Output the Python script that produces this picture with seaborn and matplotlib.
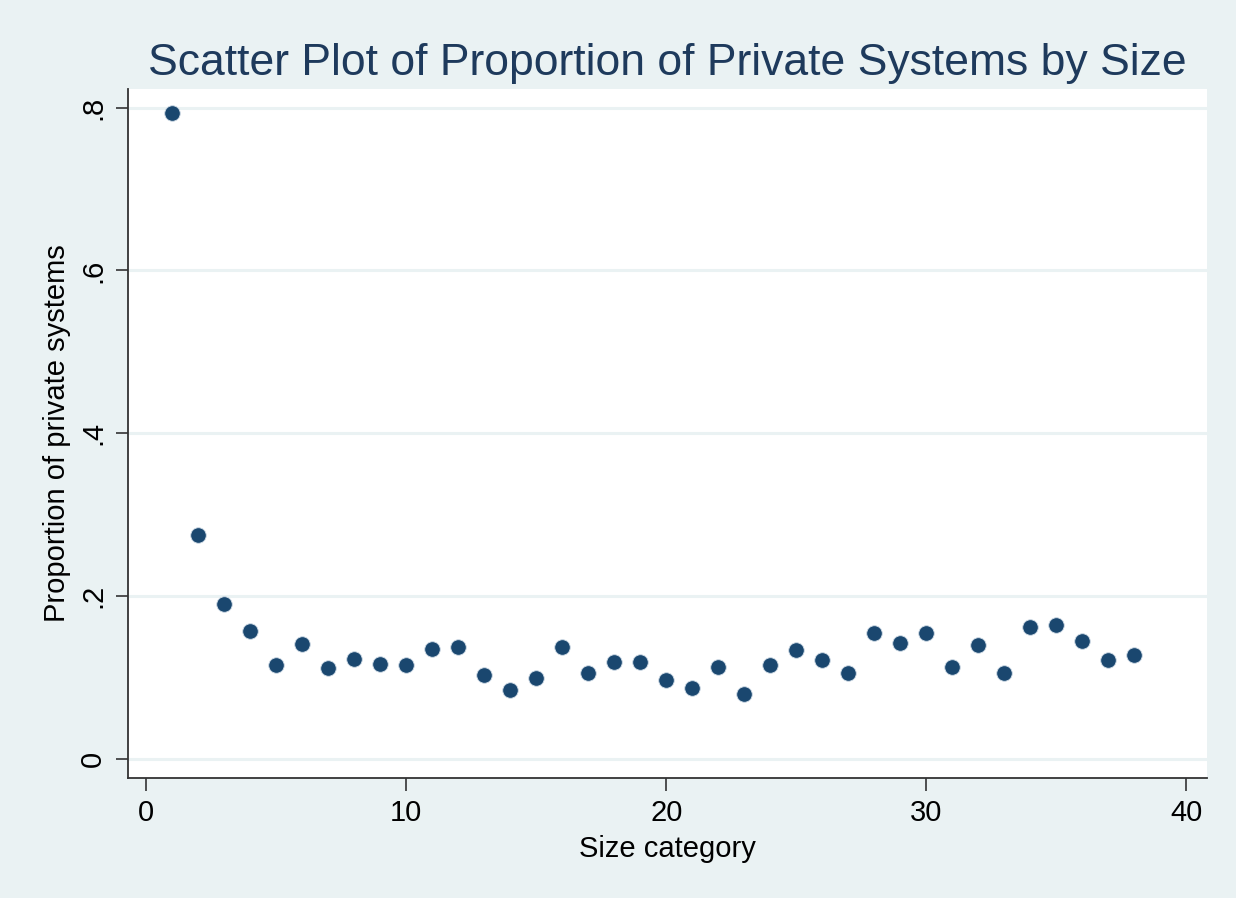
import matplotlib
matplotlib.use("Agg")
import matplotlib.pyplot as plt
import pandas as pd
import seaborn as sns

# Size category vs proportion of private systems
size_category = list(range(1, 39))
proportion_private = [
    0.793, 0.275, 0.190, 0.157, 0.115, 0.141, 0.111, 0.123, 0.117, 0.115,
    0.135, 0.137, 0.103, 0.085, 0.099, 0.137, 0.105, 0.119, 0.119, 0.097,
    0.087, 0.113, 0.080, 0.115, 0.134, 0.121, 0.105, 0.154, 0.142, 0.155,
    0.113, 0.140, 0.105, 0.162, 0.164, 0.145, 0.121, 0.127,
]
x_ticks = [0, 10, 20, 30, 40]
y_ticks = [0, 0.2, 0.4, 0.6, 0.8]
y_tick_labels = ["0", ".2", ".4", ".6", ".8"]

df = pd.DataFrame({"size": size_category, "prop": proportion_private})

BG = "#EAF2F3"
NAVY = "#1A476F"

sns.set_theme(style="white")
plt.rcParams["font.family"] = ["Liberation Sans", "DejaVu Sans"]

fig = plt.figure(figsize=(12.36, 8.98), dpi=100, facecolor=BG)
ax = fig.add_axes([128 / 1236, 1 - 778 / 898, (1207 - 128) / 1236, (778 - 89) / 898])
ax.set_facecolor("white")

for y in y_ticks:
    ax.axhline(y, color=BG, lw=2.2, zorder=0)

sns.scatterplot(data=df, x="size", y="prop", ax=ax, s=125, color=NAVY,
                edgecolor="#cfdbe6", linewidth=0.6, zorder=3)

ax.set_xlim(-0.70, 40.8)
ax.set_ylim(-0.0237, 0.823)
ax.set_xticks(x_ticks)
ax.set_xticklabels([str(t) for t in x_ticks])
ax.set_yticks(y_ticks)
ax.set_yticklabels(y_tick_labels, rotation=90, va="center")

for side in ["top", "right"]:
    ax.spines[side].set_visible(False)
for side in ["left", "bottom"]:
    ax.spines[side].set_color("#333333")
    ax.spines[side].set_linewidth(1.3)

ax.tick_params(axis="both", which="major", length=9, width=1.2, color="#333333",
               labelsize=21, labelcolor="black", direction="out", pad=6,
               bottom=True, left=True)

ax.set_xlabel("Size category", fontsize=21, color="black", labelpad=6)
ax.set_ylabel("Proportion of private systems", fontsize=21, color="black", labelpad=6)
ax.set_title("Scatter Plot of Proportion of Private Systems by Size",
             fontsize=32, color="#1E3A5C", pad=10)

fig.savefig("out.png", dpi=100, facecolor=BG)
